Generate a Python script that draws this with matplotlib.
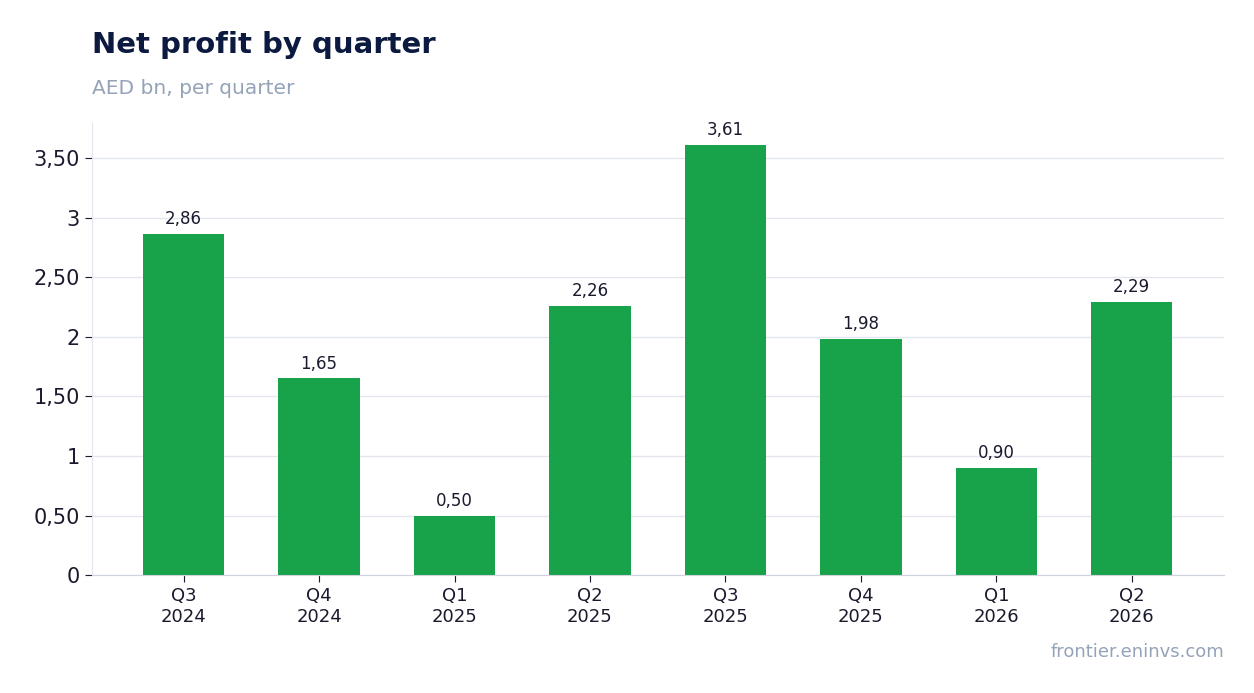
import matplotlib
matplotlib.use("Agg")
import matplotlib.pyplot as plt

categories = ["Q3\n2024", "Q4\n2024", "Q1\n2025", "Q2\n2025", "Q3\n2025", "Q4\n2025", "Q1\n2026", "Q2\n2026"]
values = [2.86, 1.65, 0.50, 2.26, 3.61, 1.98, 0.90, 2.29]
yticks = [0, 0.5, 1, 1.5, 2, 2.5, 3, 3.5]
ytick_labels = ["0", "0,50", "1", "1,50", "2", "2,50", "3", "3,50"]

fig = plt.figure(figsize=(12.54, 6.93), dpi=100)
ax = fig.add_axes([0.073, 0.17, 0.903, 0.652])
x = range(len(values))
ax.bar(x, values, width=0.6, color="#18a34a", zorder=2)
for i, v in zip(x, values):
    ax.text(i, v + 0.05, f"{v:.2f}".replace(".", ","), ha="center", va="bottom", fontsize=12, color="#1a1a2e")
ax.set_xlim(-0.68, 7.68)
ax.set_ylim(0, 3.79)
ax.set_yticks(yticks)
ax.set_yticklabels(ytick_labels, fontsize=15, color="#1a1a2e")
ax.set_xticks(list(x))
ax.set_xticklabels(categories, fontsize=13, color="#1a1a2e")
ax.grid(axis="y", color="#e3e6ec", linewidth=1, zorder=0)
for s in ["top", "right"]:
    ax.spines[s].set_visible(False)
ax.spines["left"].set_color("#e3e6ec")
ax.spines["bottom"].set_color("#d0d4dc")
ax.tick_params(axis="both", color="#1a1a2e", length=5)
fig.text(0.073, 0.935, "Net profit by quarter", fontsize=21, fontweight="bold", color="#0c1a40", va="center")
fig.text(0.073, 0.873, "AED bn, per quarter", fontsize=14.5, color="#94a3b8", va="center")
fig.text(0.976, 0.059, "frontier.eninvs.com", fontsize=13, color="#94a3b8", ha="right", va="center")
fig.savefig("out.png", dpi=100, facecolor="white")
